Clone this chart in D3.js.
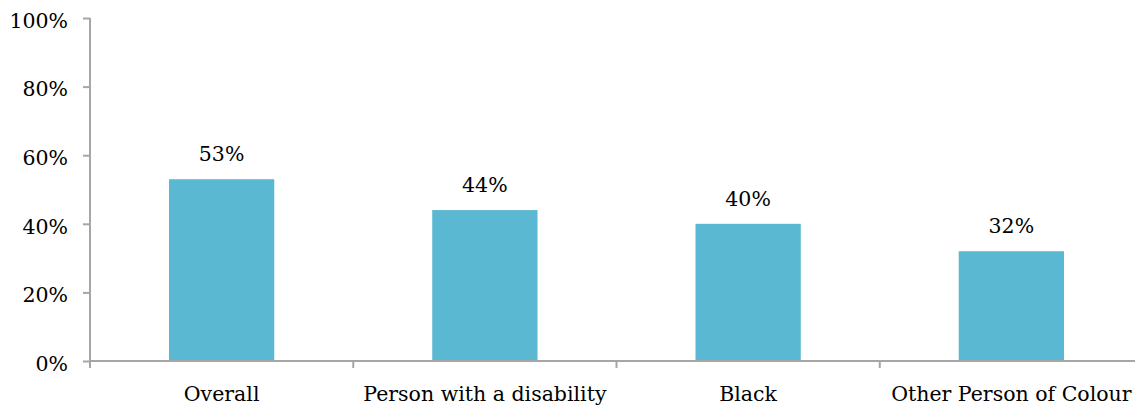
<!DOCTYPE html>
<html>
<head>
<meta charset="utf-8">
<script src="https://cdn.jsdelivr.net/npm/d3@7"></script>
<style>
  body { margin: 0; background: #fff; }
  .axis path, .axis line { stroke: #a6a6a6; stroke-width: 2; }
  .axis text { font-family: "DejaVu Serif", serif; font-size: 20.5px; fill: #000; }
  .bar { fill: #5bb8d2; }
  .label { font-family: "DejaVu Serif", serif; font-size: 20.5px; fill: #000; }
</style>
</head>
<body>
<div id="plot"></div>
<script>
// chart data
var categories = ["Overall", "Person with a disability", "Black", "Other Person of Colour"];
var values = [53, 44, 40, 32];
var yTicks = [0, 20, 40, 60, 80, 100];

function plot_bars(){
    var width = 1135,
        height = 406,
        margin = {left:90,top:18,right:-8,bottom:45},
        g_width = width-margin.left-margin.right,
        g_height = height-margin.top-margin.bottom;

    var svg = d3.select("#plot")
        .append("svg")
        .attr("width", width)
        .attr("height", height);

    var xScale = d3.scaleBand()
        .domain(categories)
        .range([margin.left, margin.left+g_width])
        .paddingInner(0.6)
        .paddingOuter(0.3);

    var yScale = d3.scaleLinear()
        .domain([0,100])
        .range([margin.top+g_height, margin.top]);

    // bars
    svg.selectAll(".bar")
        .data(values)
        .enter().append("rect")
        .attr("class","bar")
        .attr("x", function(d,i){ return xScale(categories[i]); })
        .attr("y", function(d){ return yScale(d); })
        .attr("width", xScale.bandwidth())
        .attr("height", function(d){ return yScale(0)-yScale(d); });

    // value labels
    svg.selectAll(".label")
        .data(values)
        .enter().append("text")
        .attr("class","label")
        .attr("text-anchor","middle")
        .attr("x", function(d,i){ return xScale(categories[i])+xScale.bandwidth()/2; })
        .attr("y", function(d){ return yScale(d)-18; })
        .text(function(d){ return d+"%"; });

    // y axis
    var yAxis = d3.axisLeft(yScale)
        .tickValues(yTicks)
        .tickFormat(function(d){ return d+"%"; })
        .tickSizeInner(7)
        .tickSizeOuter(0)
        .tickPadding(15);

    var gy = svg.append("g")
        .attr("class","axis")
        .attr("transform",`translate(${margin.left},0)`)
        .call(yAxis);
    gy.selectAll("text").attr("dy","0.45em");
    gy.select(".domain").attr("d", `M0,${yScale(100)}V${yScale(0)+7}`);

    // x axis: ticks at category boundaries
    var xAxis = d3.axisBottom(xScale)
        .tickSize(0)
        .tickPadding(40);

    var gx = svg.append("g")
        .attr("class","axis")
        .attr("transform",`translate(0,${yScale(0)})`)
        .call(xAxis);
    gx.selectAll("text").attr("dy", 0);
    gx.select(".domain").attr("d", `M${margin.left},0H${width}`);

    gx.selectAll(".bound")
        .data(d3.range(1, categories.length))
        .enter().append("line")
        .attr("x1", function(i){ return margin.left + i*g_width/categories.length; })
        .attr("x2", function(i){ return margin.left + i*g_width/categories.length; })
        .attr("y1", 0)
        .attr("y2", 7);
}

plot_bars();
</script>
</body>
</html>
